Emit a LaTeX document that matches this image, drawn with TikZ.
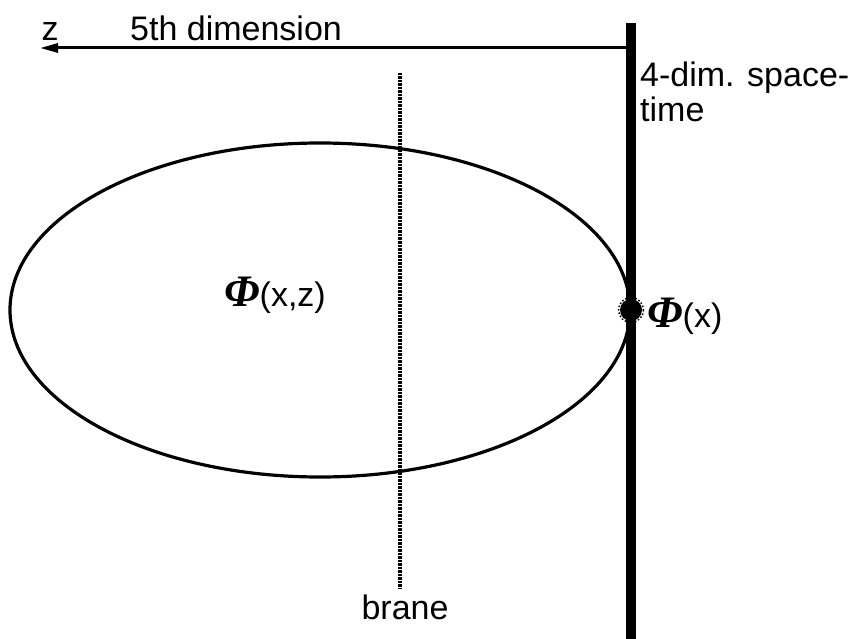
\documentclass[tikz,border=0pt]{standalone}
\usepackage{fontspec}
\setmainfont{Liberation Sans}
\newfontfamily\phifont{Liberation Serif}
\usetikzlibrary{arrows.meta,positioning}

\newcommand{\bigphi}{{\phifont\bfseries\itshape\fontsize{45}{45}\selectfont Φ}}

\begin{document}
\begin{tikzpicture}[x=1pt,y=-1pt,
    lbl/.style={inner sep=0pt, font=\fontsize{34}{35}\selectfont}]
    \useasboundingbox (0,0) rectangle (854,639);

    % 4-dim. space-time wall
    \coordinate (walltop) at (631,23);
    \coordinate (wallbot) at (631,639);
    \draw[line width=10pt] (walltop) -- (wallbot);

    % 5th dimension axis
    \coordinate (axisstart) at (631,48);
    \coordinate (axistip) at (40,48);
    \draw[-{Triangle[length=18pt,width=9pt]}, line width=3pt] (axisstart) -- (axistip);
    \node[lbl, anchor=base] (zlabel) at (50,41) {z};
    \node[lbl, anchor=base west] (dimlabel) at (130,41) {5th dimension};
    \node[lbl, anchor=north west, align=left] (spacetime) at (640,62) {4-dim. space-\\time};

    % Bulk field
    \draw[line width=3.2pt] (320,310) ellipse [x radius=310, y radius=167];
    \node[lbl, anchor=base west] (bulkfield) at (224,306) {\bigphi(x,z)};

    % Brane
    \coordinate (branetop) at (400,73);
    \coordinate (branebot) at (400,588);
    \draw[line width=4pt, dash pattern=on 2.5pt off 1pt] (branetop) -- (branebot);
    \node[lbl, anchor=base] (branelabel) at (405,619) {brane};

    % Boundary value
    \fill (631,310) circle (11);
    \draw[line width=1.5pt, dotted] (631,310) circle (12.5);
    \node[lbl, anchor=base west] (boundfield) at (647,327) {\bigphi(x)};
\end{tikzpicture}
\end{document}
